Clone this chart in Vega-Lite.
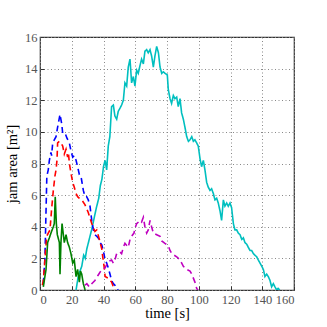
{
  "$schema": "https://vega.github.io/schema/vega-lite/v6.json",
  "autosize": {"type": "none"},
  "padding": {"left": 40, "top": 37, "right": 33, "bottom": 37},
  "width": 254,
  "height": 253,
  "background": "white",
  "config": {
    "view": {"stroke": "#333", "strokeWidth": 1.2},
    "axis": {
      "labelFont": "Liberation Serif",
      "labelFontSize": 12.5,
      "labelColor": "#555",
      "titleFont": "Liberation Serif",
      "titleFontSize": 14.5,
      "titleFontWeight": "normal",
      "titleColor": "#000",
      "grid": true,
      "gridColor": "#888",
      "gridDash": [1, 2.5],
      "gridWidth": 1,
      "domain": false,
      "ticks": true,
      "tickSize": -4,
      "tickColor": "#333",
      "labelPadding": 7
    }
  },
  "data": {
    "values": [
      {"s":"c","t":22.7,"a":0},{"s":"c","t":24,"a":0.8},{"s":"c","t":25.2,"a":1.2},{"s":"c","t":26.3,"a":1.5},{"s":"c","t":27.5,"a":2.2},{"s":"c","t":28.5,"a":2.0},{"s":"c","t":29.5,"a":2.6},{"s":"c","t":31,"a":3.2},{"s":"c","t":32.5,"a":3.8},{"s":"c","t":34,"a":4.5},{"s":"c","t":35.5,"a":5.2},{"s":"c","t":37,"a":5.8},{"s":"c","t":38,"a":6.6},{"s":"c","t":39,"a":7.0},{"s":"c","t":40,"a":7.8},{"s":"c","t":41,"a":8.2},{"s":"c","t":42,"a":7.6},{"s":"c","t":43,"a":9.1},{"s":"c","t":44,"a":9.7},{"s":"c","t":45.1,"a":11.6},{"s":"c","t":46.2,"a":11.7},{"s":"c","t":47.2,"a":11.0},{"s":"c","t":48.3,"a":10.8},{"s":"c","t":49.3,"a":11.3},{"s":"c","t":50.4,"a":11.5},{"s":"c","t":51.4,"a":11.7},{"s":"c","t":52.5,"a":12.0},{"s":"c","t":53.5,"a":13.1},{"s":"c","t":54.6,"a":12.9},{"s":"c","t":55.6,"a":14.1},{"s":"c","t":56.7,"a":14.6},{"s":"c","t":57.7,"a":13.1},{"s":"c","t":58.8,"a":13.5},{"s":"c","t":59.8,"a":12.9},{"s":"c","t":60.9,"a":13.9},{"s":"c","t":61.9,"a":13.7},{"s":"c","t":63,"a":14.2},{"s":"c","t":64,"a":14.6},{"s":"c","t":65.1,"a":14.3},{"s":"c","t":66.1,"a":15.1},{"s":"c","t":67.2,"a":15.2},{"s":"c","t":68.2,"a":15.0},{"s":"c","t":69.3,"a":15.2},{"s":"c","t":70.3,"a":14.8},{"s":"c","t":71.4,"a":14.1},{"s":"c","t":72.4,"a":14.8},{"s":"c","t":73.5,"a":15.4},{"s":"c","t":74.6,"a":15.0},{"s":"c","t":75.6,"a":14.1},{"s":"c","t":76.7,"a":13.7},{"s":"c","t":77.7,"a":13.8},{"s":"c","t":78.8,"a":13.7},{"s":"c","t":80.2,"a":13.6},{"s":"c","t":80.8,"a":12.7},{"s":"c","t":81.9,"a":12.1},{"s":"c","t":82.9,"a":11.8},{"s":"c","t":84,"a":12.3},{"s":"c","t":85,"a":12.1},{"s":"c","t":86.1,"a":12.2},{"s":"c","t":87.1,"a":11.6},{"s":"c","t":88.2,"a":12.1},{"s":"c","t":89.2,"a":11.2},{"s":"c","t":90.3,"a":10.8},{"s":"c","t":91.3,"a":10.3},{"s":"c","t":92.4,"a":9.7},{"s":"c","t":93.5,"a":9.4},{"s":"c","t":94.5,"a":9.5},{"s":"c","t":95.6,"a":9.7},{"s":"c","t":96.6,"a":9.4},{"s":"c","t":97.6,"a":9.5},{"s":"c","t":98.7,"a":9.3},{"s":"c","t":99.7,"a":9.1},{"s":"c","t":100.8,"a":8.3},{"s":"c","t":101.8,"a":7.8},{"s":"c","t":102.9,"a":8.2},{"s":"c","t":103.9,"a":7.6},{"s":"c","t":105,"a":6.8},{"s":"c","t":106,"a":6.5},{"s":"c","t":107.1,"a":6.3},{"s":"c","t":108.1,"a":6.4},{"s":"c","t":109.2,"a":6.1},{"s":"c","t":110.2,"a":5.7},{"s":"c","t":111.3,"a":5.8},{"s":"c","t":112.3,"a":5.5},{"s":"c","t":113.4,"a":5.0},{"s":"c","t":114.4,"a":4.4},{"s":"c","t":115.5,"a":5.7},{"s":"c","t":116.5,"a":5.3},{"s":"c","t":117.6,"a":5.5},{"s":"c","t":118.6,"a":5.3},{"s":"c","t":119.7,"a":5.5},{"s":"c","t":120.7,"a":5.2},{"s":"c","t":121.8,"a":4.2},{"s":"c","t":122.8,"a":3.8},{"s":"c","t":123.9,"a":3.8},{"s":"c","t":124.9,"a":3.6},{"s":"c","t":126,"a":3.5},{"s":"c","t":127.1,"a":3.2},{"s":"c","t":128.1,"a":3.3},{"s":"c","t":129.1,"a":3.0},{"s":"c","t":130.2,"a":2.9},{"s":"c","t":131.2,"a":2.7},{"s":"c","t":132.3,"a":2.5},{"s":"c","t":133.3,"a":2.5},{"s":"c","t":134.4,"a":2.3},{"s":"c","t":135.4,"a":2.2},{"s":"c","t":136.5,"a":2.1},{"s":"c","t":137.5,"a":1.9},{"s":"c","t":138.6,"a":1.7},{"s":"c","t":139.7,"a":1.5},{"s":"c","t":140.7,"a":1.3},{"s":"c","t":141.7,"a":0.85},{"s":"c","t":142.8,"a":1.0},{"s":"c","t":143.8,"a":0.85},{"s":"c","t":144.9,"a":0.6},{"s":"c","t":145.9,"a":0.2},{"s":"c","t":147,"a":0.4},{"s":"c","t":148,"a":0.2},{"s":"c","t":149.1,"a":0},{"s":"c","t":150,"a":0.1},{"s":"c","t":151,"a":0},

      {"s":"b","t":2.1,"a":0.4},{"s":"b","t":3.1,"a":2.0},{"s":"b","t":3.8,"a":5.0},{"s":"b","t":4.3,"a":7.2},{"s":"b","t":5.2,"a":7.6},{"s":"b","t":5.9,"a":8.2},{"s":"b","t":6.9,"a":8.7},{"s":"b","t":7.3,"a":8.5},{"s":"b","t":8.0,"a":9.3},{"s":"b","t":9,"a":9.5},{"s":"b","t":10.1,"a":9.7},{"s":"b","t":11.1,"a":10.3},{"s":"b","t":12.6,"a":11.1},{"s":"b","t":13.7,"a":10.5},{"s":"b","t":14.3,"a":9.9},{"s":"b","t":15.9,"a":9.9},{"s":"b","t":17,"a":9.6},{"s":"b","t":18.5,"a":9.3},{"s":"b","t":19.5,"a":8.8},{"s":"b","t":20.6,"a":8.4},{"s":"b","t":21.6,"a":8.5},{"s":"b","t":22.7,"a":8.2},{"s":"b","t":23.7,"a":7.8},{"s":"b","t":24.8,"a":7.3},{"s":"b","t":25.8,"a":7.2},{"s":"b","t":27.3,"a":6.3},{"s":"b","t":28.4,"a":5.9},{"s":"b","t":29.4,"a":5.9},{"s":"b","t":30.4,"a":5.7},{"s":"b","t":31.5,"a":5.3},{"s":"b","t":32.6,"a":4.4},{"s":"b","t":33.6,"a":3.8},{"s":"b","t":34.6,"a":3.5},{"s":"b","t":35.7,"a":3.4},{"s":"b","t":36.7,"a":3.3},{"s":"b","t":37.8,"a":3.0},{"s":"b","t":38.9,"a":2.85},{"s":"b","t":39.9,"a":2.5},{"s":"b","t":41,"a":1.9},{"s":"b","t":42,"a":1.7},{"s":"b","t":43,"a":1.4},{"s":"b","t":44.1,"a":1.0},{"s":"b","t":45.1,"a":0.6},{"s":"b","t":46.2,"a":0.4},{"s":"b","t":47.2,"a":0.3},{"s":"b","t":48.3,"a":0.1},{"s":"b","t":49.3,"a":0},

      {"s":"r","t":1.5,"a":0.3},{"s":"r","t":2.1,"a":0.6},{"s":"r","t":3.1,"a":1.9},{"s":"r","t":4.2,"a":3.4},{"s":"r","t":5.2,"a":3.6},{"s":"r","t":6.3,"a":3.8},{"s":"r","t":7.3,"a":5.1},{"s":"r","t":8.4,"a":6.3},{"s":"r","t":9.4,"a":7.2},{"s":"r","t":10.1,"a":7.6},{"s":"r","t":10.7,"a":8.2},{"s":"r","t":11.1,"a":9.3},{"s":"r","t":12.2,"a":9.4},{"s":"r","t":13.2,"a":9.3},{"s":"r","t":14.3,"a":9.1},{"s":"r","t":15.3,"a":8.6},{"s":"r","t":16.4,"a":8.9},{"s":"r","t":17.4,"a":8.4},{"s":"r","t":17.9,"a":8.7},{"s":"r","t":18.5,"a":8.0},{"s":"r","t":19.5,"a":7.4},{"s":"r","t":20.6,"a":6.8},{"s":"r","t":21.6,"a":6.5},{"s":"r","t":22.7,"a":6.1},{"s":"r","t":23.7,"a":5.9},{"s":"r","t":24.8,"a":5.8},{"s":"r","t":26.3,"a":5.7},{"s":"r","t":28.3,"a":5.4},{"s":"r","t":30.4,"a":4.9},{"s":"r","t":32.6,"a":4.2},{"s":"r","t":34.6,"a":3.7},{"s":"r","t":35.7,"a":3.8},{"s":"r","t":37.4,"a":3.2},{"s":"r","t":38.9,"a":2.6},{"s":"r","t":39.9,"a":1.8},{"s":"r","t":40.5,"a":1.4},{"s":"r","t":41,"a":0.85},{"s":"r","t":43,"a":0.74},{"s":"r","t":45.1,"a":0.5},{"s":"r","t":46.2,"a":0.2},{"s":"r","t":47.2,"a":0},

      {"s":"g","t":2.1,"a":0.2},{"s":"g","t":2.7,"a":0.6},{"s":"g","t":3.8,"a":1.3},{"s":"g","t":4.8,"a":3.0},{"s":"g","t":5.9,"a":3.3},{"s":"g","t":6.9,"a":3.6},{"s":"g","t":8.4,"a":4.0},{"s":"g","t":9.0,"a":4.2},{"s":"g","t":9.6,"a":5.9},{"s":"g","t":10.3,"a":4.2},{"s":"g","t":10.9,"a":3.5},{"s":"g","t":12.2,"a":3.0},{"s":"g","t":12.6,"a":1.0},{"s":"g","t":13.2,"a":3.0},{"s":"g","t":13.9,"a":4.2},{"s":"g","t":15.3,"a":3.0},{"s":"g","t":16.4,"a":3.5},{"s":"g","t":17.4,"a":3.0},{"s":"g","t":18.5,"a":2.7},{"s":"g","t":19.5,"a":2.3},{"s":"g","t":20.6,"a":1.7},{"s":"g","t":21.6,"a":1.9},{"s":"g","t":22.7,"a":0.85},{"s":"g","t":23.7,"a":1.3},{"s":"g","t":24.8,"a":0.5},{"s":"g","t":25.5,"a":1.2},{"s":"g","t":26.3,"a":1.0},{"s":"g","t":27.3,"a":0.4},{"s":"g","t":28.4,"a":0},

      {"s":"m","t":28.3,"a":0.3},{"s":"m","t":29.5,"a":0.4},{"s":"m","t":31,"a":0.2},{"s":"m","t":32.6,"a":0.4},{"s":"m","t":34.6,"a":0.6},{"s":"m","t":36.7,"a":0.95},{"s":"m","t":38.9,"a":1.3},{"s":"m","t":41,"a":1.4},{"s":"m","t":43,"a":1.8},{"s":"m","t":45.1,"a":1.9},{"s":"m","t":46.2,"a":1.7},{"s":"m","t":47.2,"a":1.9},{"s":"m","t":48.3,"a":2.3},{"s":"m","t":50.4,"a":2.4},{"s":"m","t":51.4,"a":2.3},{"s":"m","t":52.5,"a":2.7},{"s":"m","t":53.5,"a":2.95},{"s":"m","t":55.6,"a":2.7},{"s":"m","t":56.7,"a":3.2},{"s":"m","t":57.7,"a":3.4},{"s":"m","t":59.2,"a":3.6},{"s":"m","t":59.8,"a":3.9},{"s":"m","t":60.9,"a":4.2},{"s":"m","t":62,"a":4.3},{"s":"m","t":63,"a":4.4},{"s":"m","t":64,"a":4.3},{"s":"m","t":65.1,"a":4.6},{"s":"m","t":66.1,"a":4.0},{"s":"m","t":67.2,"a":3.6},{"s":"m","t":68.2,"a":3.8},{"s":"m","t":69.3,"a":4.4},{"s":"m","t":70.3,"a":4.0},{"s":"m","t":71.4,"a":3.6},{"s":"m","t":73.5,"a":3.5},{"s":"m","t":75.6,"a":3.4},{"s":"m","t":76.7,"a":3.1},{"s":"m","t":78.7,"a":2.95},{"s":"m","t":80.8,"a":2.8},{"s":"m","t":81.9,"a":2.5},{"s":"m","t":83,"a":2.3},{"s":"m","t":86.1,"a":2.1},{"s":"m","t":88.2,"a":1.9},{"s":"m","t":90.3,"a":1.5},{"s":"m","t":92.4,"a":1.3},{"s":"m","t":94.5,"a":1.2},{"s":"m","t":95.6,"a":1.0},{"s":"m","t":97.6,"a":0.5},{"s":"m","t":98.7,"a":0.1},{"s":"m","t":99.5,"a":0}
    ]
  },
  "mark": {"type": "line", "strokeWidth": 1.6, "clip": true},
  "encoding": {
    "x": {"field": "t", "type": "quantitative", "scale": {"domain": [0, 160], "nice": false},
      "axis": {"title": "time [s]", "values": [0,20,40,60,80,100,120,140,160], "titlePadding": 1}},
    "y": {"field": "a", "type": "quantitative", "scale": {"domain": [0, 16], "nice": false},
      "axis": {"title": "jam area [m²]", "values": [0,2,4,6,8,10,12,14,16], "titlePadding": 5}},
    "color": {"field": "s", "type": "nominal", "legend": null,
      "scale": {"domain": ["c","b","r","g","m"], "range": ["#00bfbf","#0000ff","#ff0000","#008000","#bf00bf"]}},
    "strokeDash": {"field": "s", "type": "nominal", "legend": null,
      "scale": {"domain": ["c","b","r","g","m"], "range": [[1,0],[6,4],[6,4],[1,0],[6,4]]}},
    "order": {"field": "t", "type": "quantitative"}
  }
}
